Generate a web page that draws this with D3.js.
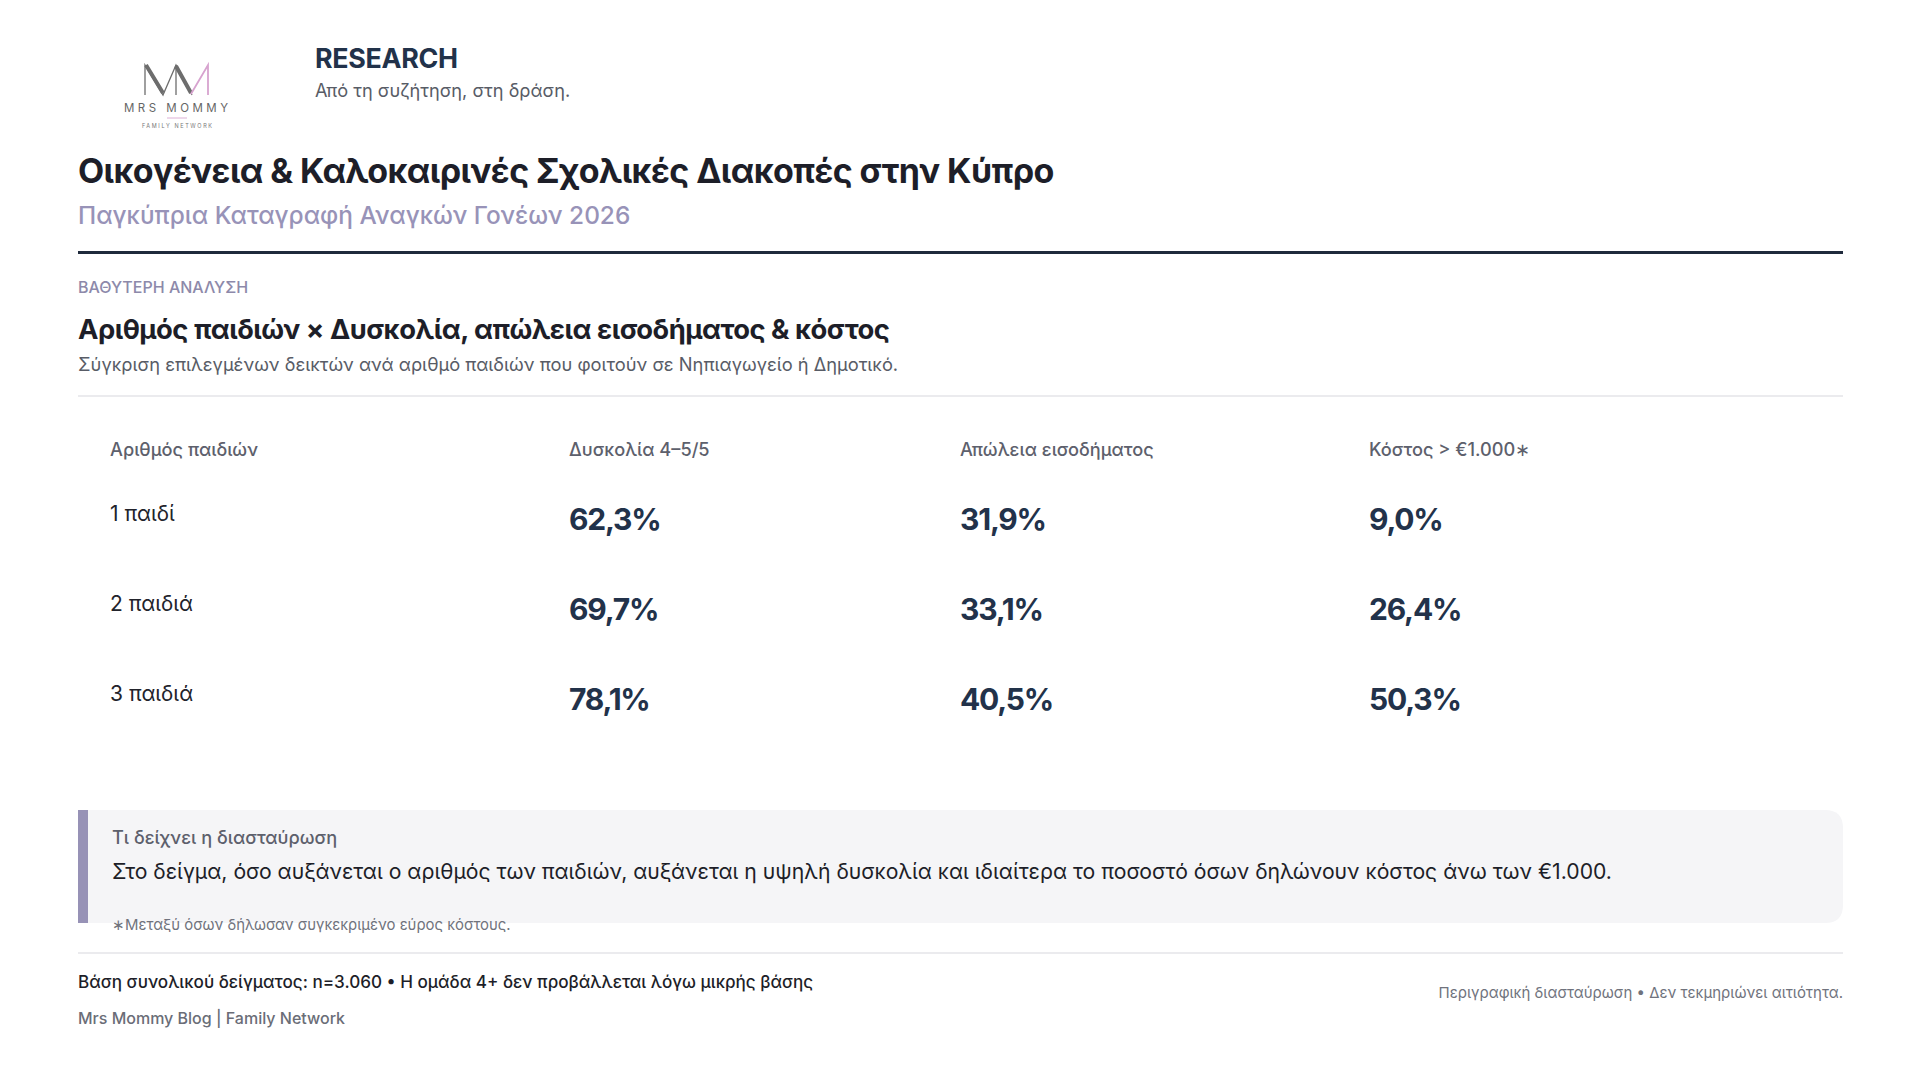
<!DOCTYPE html>
<html>
<head>
<meta charset="utf-8">
<script src="https://cdn.jsdelivr.net/npm/d3@7"></script>
<style>
  html, body { margin: 0; padding: 0; background: #fff; }
  svg { display: block; font-family: Inter, "Noto Sans", sans-serif; }
</style>
</head>
<body>
<div id="chart"></div>
<script>
// data
var rowLabels = ["1 παιδί", "2 παιδιά", "3 παιδιά"];
var columnLabels = ["Αριθμός παιδιών", "Δυσκολία 4–5/5", "Απώλεια εισοδήματος", "Κόστος > €1.000∗"];
var difficulty = [62.3, 69.7, 78.1];
var incomeLoss = [31.9, 33.1, 40.5];
var costOver1000 = [9.0, 26.4, 50.3];

var width = 1920, height = 1080;
var margin = {left: 78, right: 77};

var svg = d3.select('#chart').append('svg')
  .attr('width', width)
  .attr('height', height);

// greek number format, comma decimal
var gr = d3.formatLocale({decimal: ",", thousands: ".", grouping: [3], currency: ["€", ""]});
var pct = function(v) { return gr.format(".1f")(v) + "%"; };

// ---- logo
var logo = svg.append('g').attr('class', 'logo');
logo.append('path')
  .attr('d', 'M145,95 L145,65 L163,95 L176,65 L192,95')
  .attr('fill', 'none').attr('stroke', '#6d6d6d').attr('stroke-width', 1.3);
logo.append('path')
  .attr('d', 'M146,65 L163,93 M176,66 L191,93')
  .attr('fill', 'none').attr('stroke', '#6d6d6d').attr('stroke-width', 4);
logo.append('path')
  .attr('d', 'M176,65 L176,95')
  .attr('fill', 'none').attr('stroke', '#6d6d6d').attr('stroke-width', 1.3);
logo.append('path')
  .attr('d', 'M191,94 L208,65 L208,95')
  .attr('fill', 'none').attr('stroke', '#d7a3cf').attr('stroke-width', 1.8);
logo.append('text')
  .attr('x', 124).attr('y', 112)
  .attr('textLength', 104).attr('lengthAdjust', 'spacing')
  .attr('font-size', 11.5).attr('fill', '#666')
  .text('MRS MOMMY');
logo.append('line')
  .attr('x1', 167).attr('x2', 187).attr('y1', 118).attr('y2', 118)
  .attr('stroke', '#dcb0d5').attr('stroke-width', 1);
logo.append('text')
  .attr('x', 142).attr('y', 128)
  .attr('textLength', 70).attr('lengthAdjust', 'spacing')
  .attr('font-size', 5.5).attr('fill', '#777')
  .text('FAMILY NETWORK');

// ---- header
svg.append('text')
  .attr('x', 315).attr('y', 68)
  .attr('font-size', 26.8).attr('font-weight', 700).attr('fill', '#22324a')
  .attr('letter-spacing', -0.3)
  .text('RESEARCH');
svg.append('text')
  .attr('x', 315).attr('y', 97)
  .attr('font-size', 18.2).attr('fill', '#585c66')
  .text('Από τη συζήτηση, στη δράση.');

svg.append('text')
  .attr('x', margin.left).attr('y', 183)
  .attr('font-size', 34).attr('font-weight', 700).attr('fill', '#1d1e28')
  .attr('letter-spacing', -0.6)
  .text('Οικογένεια & Καλοκαιρινές Σχολικές Διακοπές στην Κύπρο');
svg.append('text')
  .attr('x', margin.left).attr('y', 224)
  .attr('font-size', 24.4).attr('font-weight', 500).attr('fill', '#9893b8')
  .text('Παγκύπρια Καταγραφή Αναγκών Γονέων 2026');

svg.append('rect')
  .attr('x', margin.left).attr('y', 251)
  .attr('width', width - margin.left - margin.right).attr('height', 3)
  .attr('fill', '#1f2a3c');

svg.append('text')
  .attr('x', margin.left).attr('y', 293)
  .attr('font-size', 16).attr('font-weight', 500).attr('fill', '#8d89aa')
  .text('ΒΑΘΥΤΕΡΗ ΑΝΑΛΥΣΗ');
svg.append('text')
  .attr('x', margin.left).attr('y', 339)
  .attr('font-size', 27.4).attr('font-weight', 700).attr('fill', '#1d1e28')
  .attr('letter-spacing', -0.5)
  .text('Αριθμός παιδιών × Δυσκολία, απώλεια εισοδήματος & κόστος');
svg.append('text')
  .attr('x', margin.left).attr('y', 371)
  .attr('font-size', 18.3).attr('fill', '#585c66')
  .text('Σύγκριση επιλεγμένων δεικτών ανά αριθμό παιδιών που φοιτούν σε Νηπιαγωγείο ή Δημοτικό.');

svg.append('line')
  .attr('x1', margin.left).attr('x2', width - margin.right)
  .attr('y1', 396).attr('y2', 396)
  .attr('stroke', '#e4e4e9').attr('stroke-width', 1.5);

// ---- table
var xCol = d3.scaleOrdinal()
  .domain(columnLabels)
  .range([110, 569, 960, 1369]);

var yRow = d3.scaleBand()
  .domain(rowLabels)
  .range([471, 741]);

svg.append('g').attr('class', 'col-headers')
  .selectAll('text')
  .data(columnLabels)
  .enter()
  .append('text')
  .attr('x', d => xCol(d))
  .attr('y', 456)
  .attr('font-size', 18.2).attr('font-weight', 500).attr('fill', '#5d606c')
  .text(d => d);

svg.append('g').attr('class', 'row-labels')
  .selectAll('text')
  .data(rowLabels)
  .enter()
  .append('text')
  .attr('x', xCol(columnLabels[0]))
  .attr('y', d => yRow(d) + yRow.bandwidth() / 2 + 5)
  .attr('font-size', 21).attr('fill', '#22232b')
  .text(d => d);

var cells = [];
rowLabels.forEach(function(r, i) {
  cells.push({row: r, col: columnLabels[1], value: difficulty[i]});
  cells.push({row: r, col: columnLabels[2], value: incomeLoss[i]});
  cells.push({row: r, col: columnLabels[3], value: costOver1000[i]});
});

svg.append('g').attr('class', 'values')
  .selectAll('text')
  .data(cells)
  .enter()
  .append('text')
  .attr('x', d => xCol(d.col))
  .attr('y', d => yRow(d.row) + yRow.bandwidth() / 2 + 14)
  .attr('font-size', 30).attr('font-weight', 700).attr('fill', '#22324a')
  .attr('letter-spacing', -1.2)
  .text(d => pct(d.value));

// ---- callout
var bx = margin.left, by = 810, bw = width - margin.left - margin.right, bh = 113, r = 18;
svg.append('path')
  .attr('d', `M${bx},${by} H${bx + bw - r} Q${bx + bw},${by} ${bx + bw},${by + r} V${by + bh - r} Q${bx + bw},${by + bh} ${bx + bw - r},${by + bh} H${bx} Z`)
  .attr('fill', '#f5f5f7');
svg.append('rect')
  .attr('x', bx).attr('y', by).attr('width', 10).attr('height', bh)
  .attr('fill', '#9792b6');

svg.append('text')
  .attr('x', 112).attr('y', 844)
  .attr('font-size', 18.2).attr('font-weight', 500).attr('fill', '#5d606c')
  .text('Τι δείχνει η διασταύρωση');
svg.append('text')
  .attr('x', 112).attr('y', 879)
  .attr('font-size', 21.2).attr('fill', '#1d1e28')
  .text('Στο δείγμα, όσο αυξάνεται ο αριθμός των παιδιών, αυξάνεται η υψηλή δυσκολία και ιδιαίτερα το ποσοστό όσων δηλώνουν κόστος άνω των €1.000.');
svg.append('text')
  .attr('x', 112).attr('y', 930)
  .attr('font-size', 14.9).attr('fill', '#70737d')
  .text('∗Μεταξύ όσων δήλωσαν συγκεκριμένο εύρος κόστους.');

// ---- footer
svg.append('line')
  .attr('x1', margin.left).attr('x2', width - margin.right)
  .attr('y1', 953).attr('y2', 953)
  .attr('stroke', '#e4e4e9').attr('stroke-width', 1.5);

svg.append('text')
  .attr('x', margin.left).attr('y', 988)
  .attr('font-size', 17.1).attr('font-weight', 500).attr('fill', '#1d1e28')
  .text('Βάση συνολικού δείγματος: n=3.060 • Η ομάδα 4+ δεν προβάλλεται λόγω μικρής βάσης');
svg.append('text')
  .attr('x', margin.left).attr('y', 1024)
  .attr('font-size', 16).attr('font-weight', 500).attr('fill', '#6a6d77')
  .text('Mrs Mommy Blog | Family Network');
svg.append('text')
  .attr('x', width - margin.right).attr('y', 998)
  .attr('text-anchor', 'end')
  .attr('font-size', 15).attr('fill', '#70737d')
  .text('Περιγραφική διασταύρωση • Δεν τεκμηριώνει αιτιότητα.');
</script>
</body>
</html>
